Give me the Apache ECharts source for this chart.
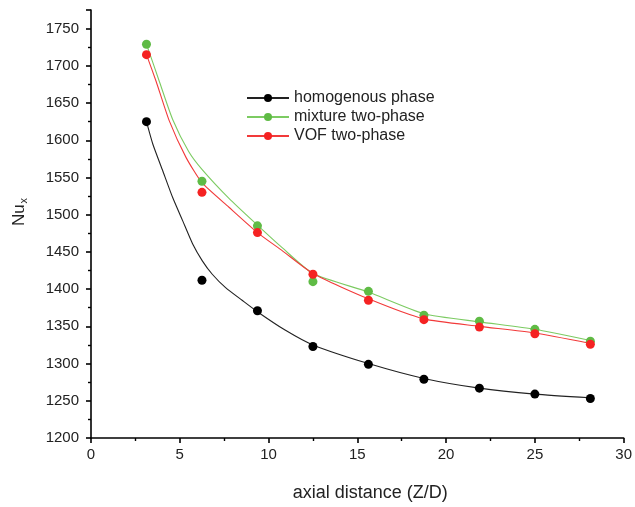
<!DOCTYPE html>
<html><head><meta charset="utf-8">
<script src="https://cdn.jsdelivr.net/npm/echarts@6/dist/echarts.min.js"></script>
<style>html,body{margin:0;padding:0;background:#fff}#c{width:635px;height:507px}</style>
</head><body><div id="c"></div>
<script>
// Measured points
const zd = [3.125, 6.25, 9.375, 12.5, 15.625, 18.75, 21.875, 25, 28.125];
const homogeneous = [1625, 1412, 1371, 1323, 1299, 1279, 1267, 1259, 1253];
const mixture = [1729, 1545, 1485, 1410, 1397, 1365, 1357, 1346, 1330];
const vof = [1715, 1530, 1476, 1420, 1385, 1359, 1349, 1340, 1326];
// Fitted curves
const homogeneousFitX = [3.125, 3.48, 4.04, 4.6, 5.16, 5.72, 6.27, 6.83, 7.58, 8.51, 9.35, 10.93, 12.5, 15.625, 18.75, 21.875, 25, 28.125];
const homogeneousFit = [1625, 1595, 1559, 1523, 1492, 1461, 1438, 1420, 1402, 1385, 1370, 1345, 1325, 1300, 1280, 1267, 1259, 1254];
const mixtureFitX = [3.125, 3.85, 4.6, 5.5, 6.25, 7.77, 9.375, 10.75, 12.5, 15.625, 18.75, 21.875, 25, 28.125];
const mixtureFit = [1729, 1679, 1628, 1585, 1561, 1522, 1486, 1456, 1421, 1396, 1367, 1356, 1346, 1331];
const vofFitX = [3.125, 3.67, 4.41, 5.35, 6.25, 7.77, 9.375, 10.75, 12.5, 15.625, 18.75, 21.875, 25, 28.125];
const vofFit = [1715, 1679, 1626, 1577, 1543, 1510, 1476, 1452, 1421, 1387, 1360, 1350, 1341, 1327];
const names = ['homogenous phase', 'mixture two-phase', 'VOF two-phase'];
const colors = ['#000000', '#5fbb45', '#f52222'];
const lineColors = ['#222222', '#7ccb62', '#f23a3a'];

const pts = [homogeneous, mixture, vof];
const fitXs = [homogeneousFitX, mixtureFitX, vofFitX];
const fits = [homogeneousFit, mixtureFit, vofFit];
const pair = (xs, ys) => xs.map((x, i) => [x, ys[i]]);

const series = [];
names.forEach((n, k) => {
  series.push({
    name: n, type: 'line', data: pair(fitXs[k], fits[k]), smooth: 0.2,
    symbol: 'circle', symbolSize: 9, showSymbol: false,
    lineStyle: { color: lineColors[k], width: 1.1 },
    itemStyle: { color: colors[k] }, z: 2
  });
});
names.forEach((n, k) => {
  series.push({
    name: n, type: 'scatter', data: pair(zd, pts[k]),
    symbol: 'circle', symbolSize: 9,
    itemStyle: { color: colors[k], opacity: 1 }, z: 3
  });
});

const font = 'Liberation Sans, Arial, sans-serif';
const chart = echarts.init(document.getElementById('c'), null, { renderer: 'canvas' });
chart.setOption({
  animation: false,
  backgroundColor: '#fff',
  grid: { left: 91, right: 7, top: 10, bottom: 69, containLabel: false },
  legend: {
    data: names, orient: 'vertical', left: 241, top: 85,
    itemWidth: 42, itemHeight: 10, itemGap: 3,
    textStyle: { fontSize: 16, lineHeight: 16, color: '#222', fontFamily: font },
    selectedMode: false
  },
  xAxis: {
    type: 'value', min: 0, max: 30, interval: 5,
    name: 'axial distance (Z/D)', nameLocation: 'middle', nameGap: 46,
    nameTextStyle: { fontSize: 18, color: '#222', fontFamily: font, padding: [0, 0, 0, 26] },
    axisLine: { show: true, onZero: false, lineStyle: { color: '#000', width: 1.6 } },
    axisTick: { show: true, inside: false, length: 5, lineStyle: { color: '#000', width: 1.6 } },
    minorTick: { show: true, splitNumber: 2, length: 3, lineStyle: { color: '#000', width: 1.4 } },
    axisLabel: { fontSize: 15, color: '#222', fontFamily: font, margin: 9 },
    splitLine: { show: false }
  },
  yAxis: {
    type: 'value', min: 1200, max: 1775, interval: 50,
    name: '{a|Nu}{b|x}', nameLocation: 'middle', nameGap: 62, nameRotate: 90,
    nameTextStyle: {
      fontFamily: font, padding: [0, 0, 0, 24],
      rich: {
        a: { fontSize: 17, color: '#222', fontFamily: font },
        b: { fontSize: 11, color: '#222', fontFamily: font, verticalAlign: 'bottom', padding: [8, 0, 0, 1] }
      }
    },
    axisLine: { show: true, onZero: false, lineStyle: { color: '#000', width: 1.6 } },
    axisTick: { show: true, inside: false, length: 5, lineStyle: { color: '#000', width: 1.6 } },
    minorTick: { show: true, splitNumber: 2, length: 3, lineStyle: { color: '#000', width: 1.4 } },
    axisLabel: { fontSize: 15, color: '#222', fontFamily: font, margin: 12, showMaxLabel: false,
      formatter: v => String(v) },
    splitLine: { show: false }
  },
  series: series
});
</script></body></html>
